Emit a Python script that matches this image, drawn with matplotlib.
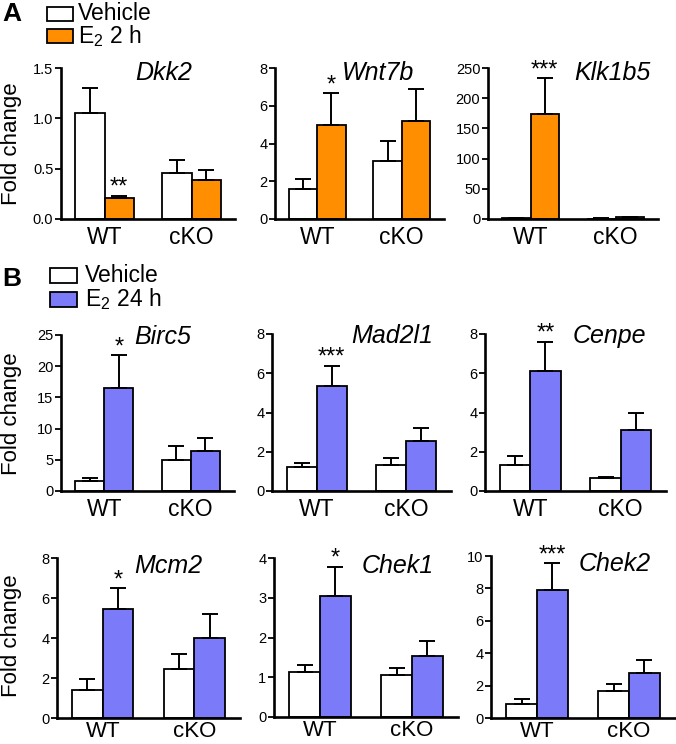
import matplotlib
matplotlib.use("Agg")
import matplotlib.pyplot as plt
from matplotlib.patches import Rectangle
import numpy as np

plt.rcParams['font.family'] = ['Liberation Sans', 'DejaVu Sans']
plt.rcParams['mathtext.fontset'] = 'custom'
plt.rcParams['mathtext.rm'] = 'Liberation Sans'
plt.rcParams['mathtext.it'] = 'Liberation Sans:italic'

# ---------------- data ----------------
groups = ["WT", "cKO"]

genes_A = ["Dkk2", "Wnt7b", "Klk1b5"]
veh_A = [[1.05, 0.46], [1.58, 3.09], [1.0, 0.8]]
veh_A_err = [[0.25, 0.13], [0.55, 1.04], [0.5, 0.4]]
e2_A = [[0.21, 0.39], [4.99, 5.20], [174.0, 3.3]]
e2_A_err = [[0.02, 0.10], [1.66, 1.69], [59.0, 0.8]]
stars_A = ["**", "*", "***"]
yticks_A = [[0.0, 0.5, 1.0, 1.5], [0, 2, 4, 6, 8], [0, 50, 100, 150, 200, 250]]

genes_B = ["Birc5", "Mad2l1", "Cenpe", "Mcm2", "Chek1", "Chek2"]
veh_B = [[1.62, 4.98], [1.20, 1.35], [1.31, 0.64], [1.39, 2.45], [1.14, 1.05], [0.88, 1.69]]
veh_B_err = [[0.49, 2.16], [0.25, 0.33], [0.47, 0.07], [0.54, 0.76], [0.17, 0.18], [0.28, 0.41]]
e2_B = [[16.45, 6.49], [5.37, 2.56], [6.10, 3.09], [5.44, 4.00], [3.05, 1.53], [7.92, 2.80]]
e2_B_err = [[5.30, 2.01], [1.01, 0.66], [1.48, 0.88], [1.04, 1.19], [0.72, 0.39], [1.63, 0.75]]
stars_B = ["*", "***", "**", "*", "*", "***"]
yticks_B = [[0, 5, 10, 15, 20, 25], [0, 2, 4, 6, 8], [0, 2, 4, 6, 8],
            [0, 2, 4, 6, 8], [0, 1, 2, 3, 4], [0, 2, 4, 6, 8, 10]]

legend_A = ["Vehicle", "E$_2$ 2 h"]
legend_B = ["Vehicle", "E$_2$ 24 h"]
orange = "#FF8F00"
purple = "#7B7BFA"

W, H = 676, 744
fig = plt.figure(figsize=(W / 100, H / 100), dpi=100)


def ax_px(l, r, t, b):
    return fig.add_axes([l / W, 1 - b / H, (r - l) / W, (b - t) / H])


# axes boxes in pixels (left, right, top, bottom)
boxes_A = [(61, 235, 68, 219), (275, 444, 68, 219), (488, 658, 68, 219)]
boxes_B = [(61, 234, 335, 491), (272, 451, 334, 491), (485, 666, 334, 491),
           (57, 240, 558, 718), (274, 458, 558, 717), (491, 675, 556, 718)]
title_pos_A = [(0.59, 0.965), (0.61, 0.965), (0.73, 0.965)]
title_pos_B = [(0.59, 0.99), (0.67, 0.99), (0.685, 0.99),
               (0.61, 0.95), (0.67, 0.95), (0.67, 0.95)]

bw = 0.335
x = np.arange(len(groups))


def draw_panel(ax, gene, veh, veh_err, e2, e2_err, star, yticks, color, tpos,
               decimals=False, xpad=5, xfs=16.5):
    xv = x - bw / 2
    xe = x + bw / 2
    ax.bar(xv, veh, bw, color="white", edgecolor="black", linewidth=1.3, zorder=2)
    ax.bar(xe, e2, bw, color=color, edgecolor="black", linewidth=1.3, zorder=2)
    ax.errorbar(xv, veh, yerr=[np.zeros(len(veh)), veh_err], fmt="none",
                ecolor="black", elinewidth=1.4, capsize=5.5, capthick=1.4, zorder=3)
    ax.errorbar(xe, e2, yerr=[np.zeros(len(e2)), e2_err], fmt="none",
                ecolor="black", elinewidth=1.4, capsize=5.5, capthick=1.4, zorder=3)
    ax.annotate(star, (xe[0], e2[0] + e2_err[0]), xytext=(0, -2), textcoords="offset points",
                ha="center", va="bottom", fontsize=17, annotation_clip=False)
    ax.set_xlim(-0.5, 1.5)
    ax.set_ylim(0, yticks[-1])
    ax.set_yticks(yticks)
    if decimals:
        ax.set_yticklabels([f"{t:.1f}" for t in yticks])
    ax.set_xticks(x)
    ax.set_xticklabels(groups, fontsize=xfs)
    ax.tick_params(axis="x", length=0, pad=xpad)
    ax.tick_params(axis="y", length=4, width=1.3, labelsize=10.5, pad=1.5, direction="out")
    for s in ["top", "right"]:
        ax.spines[s].set_visible(False)
    for s in ["left", "bottom"]:
        ax.spines[s].set_linewidth(1.9)
    ax.text(tpos[0], tpos[1], gene, transform=ax.transAxes, ha="center", va="center",
            fontsize=18, style="italic")


for i in range(3):
    ax = ax_px(*boxes_A[i])
    draw_panel(ax, genes_A[i], veh_A[i], veh_A_err[i], e2_A[i], e2_A_err[i], stars_A[i],
               yticks_A[i], orange, title_pos_A[i], decimals=(i == 0))

for i in range(6):
    ax = ax_px(*boxes_B[i])
    bottom_row = i >= 3
    draw_panel(ax, genes_B[i], veh_B[i], veh_B_err[i], e2_B[i], e2_B_err[i], stars_B[i],
               yticks_B[i], purple, title_pos_B[i],
               xpad=2 if bottom_row else 5, xfs=16 if bottom_row else 16.5)

# y labels
for yc in [144, 414, 636]:
    fig.text(12 / W, 1 - yc / H, "Fold change", rotation=90, ha="center", va="center", fontsize=16)

# panel letters
fig.text(2 / W, 1 - 14 / H, "A", fontsize=19, fontweight="bold", ha="left", va="center")
fig.text(2 / W, 1 - 279 / H, "B", fontsize=19, fontweight="bold", ha="left", va="center")


def legend_box(x0, y0, w, h, fc):
    fig.add_artist(Rectangle((x0 / W, 1 - (y0 + h) / H), w / W, h / H, facecolor=fc,
                             edgecolor="black", linewidth=1.3, transform=fig.transFigure))


legend_box(47, 7, 26, 14, "white")
legend_box(47, 29, 26, 14, orange)
fig.text(78 / W, 1 - 14 / H, legend_A[0], fontsize=16.5, ha="left", va="center")
fig.text(78 / W, 1 - 36 / H, legend_A[1], fontsize=16.5, ha="left", va="center")

legend_box(50, 268, 27, 15, "white")
legend_box(50, 292, 27, 15, purple)
fig.text(85 / W, 1 - 275 / H, legend_B[0], fontsize=16.5, ha="left", va="center")
fig.text(85 / W, 1 - 299 / H, legend_B[1], fontsize=16.5, ha="left", va="center")

fig.savefig("out.png", dpi=100)
